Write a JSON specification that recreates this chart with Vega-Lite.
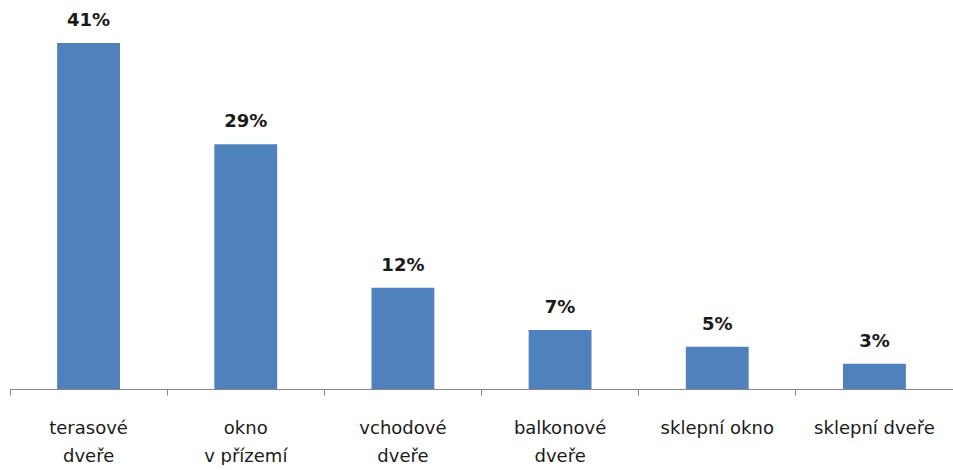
{
  "$schema": "https://vega.github.io/schema/vega-lite/v6.json",
  "width": 943,
  "height": 389,
  "padding": {"left": 9, "top": 0, "right": 1, "bottom": 0},
  "background": "white",
  "config": {"view": {"stroke": null}, "font": "DejaVu Sans"},
  "data": {"values": [
    {"kategorie": "terasové\ndveře", "podil": 0.41},
    {"kategorie": "okno\nv přízemí", "podil": 0.29},
    {"kategorie": "vchodové\ndveře", "podil": 0.12},
    {"kategorie": "balkonové\ndveře", "podil": 0.07},
    {"kategorie": "sklepní okno", "podil": 0.05},
    {"kategorie": "sklepní dveře", "podil": 0.03}
  ]},
  "encoding": {
    "x": {"field": "kategorie", "type": "nominal", "sort": null,
      "scale": {"paddingInner": 0, "paddingOuter": 0},
      "axis": {"title": null, "labelAngle": 0, "bandPosition": 0, "tickSize": 6,
        "domainColor": "#868686", "tickColor": "#868686", "labelPadding": 24,
        "labelFontSize": 18, "labelColor": "#1a1a1a", "labelLineHeight": 28,
        "labelExpr": "split(datum.label, '\\n')", "labelBaseline": "top"}},
    "y": {"field": "podil", "type": "quantitative", "scale": {"domain": [0, 0.461], "nice": false}, "axis": null}
  },
  "layer": [
    {"mark": {"type": "bar", "color": "#4F81BD", "width": {"band": 0.4}}},
    {"mark": {"type": "text", "baseline": "bottom", "dy": -13, "fontSize": 18, "fontWeight": 600, "color": "#1a1a1a"},
     "encoding": {"text": {"field": "podil", "type": "quantitative", "format": ".0%"}}}
  ]
}
